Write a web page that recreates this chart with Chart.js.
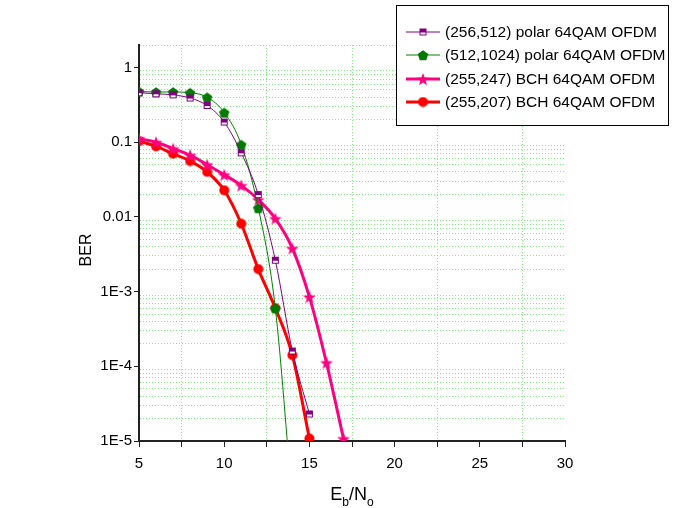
<!DOCTYPE html>
<html>
<head>
<meta charset="utf-8">
<script src="https://cdn.jsdelivr.net/npm/chart.js@4"></script>
<style>
  html, body { margin: 0; padding: 0; background: #fff; }
</style>
</head>
<body>
<canvas id="berChart" width="673" height="508"></canvas>
<script>
// ---- data ----
const ebnoPolar256 = [5, 6, 7, 8, 9, 10, 11, 12, 13, 14, 15];
const berPolar256 = [0.46, 0.445, 0.43, 0.39, 0.31, 0.186, 0.072, 0.0199, 0.00263, 1.6e-4, 2.3e-5];

const ebnoPolar512 = [5, 6, 7, 8, 9, 10, 11, 12, 13, 14];
const berPolar512 = [0.478, 0.47, 0.47, 0.46, 0.40, 0.25, 0.093, 0.0132, 6.0e-4, 1.5e-6];

const ebnoBch247 = [5, 6, 7, 8, 9, 10, 11, 12, 13, 14, 15, 16, 17];
const berBch247 = [0.112, 0.100, 0.082, 0.067, 0.050, 0.0367, 0.0264, 0.0170, 0.0095, 0.0038, 8.5e-4, 1.12e-4, 1.08e-5];

const ebnoBch207 = [5, 6, 7, 8, 9, 10, 11, 12, 13, 14, 15];
const berBch207 = [0.1035, 0.088, 0.070, 0.056, 0.040, 0.0227, 0.0081, 0.0020, 6.0e-4, 1.41e-4, 1.08e-5];

const seriesNames = [
  '(256,512) polar 64QAM OFDM',
  '(512,1024) polar 64QAM OFDM',
  '(255,247) BCH 64QAM OFDM',
  '(255,207) BCH 64QAM OFDM'
];

const yMajorVals = [1, 0.1, 0.01, 1e-3, 1e-4, 1e-5];
const yMajorLabels = ['1', '0.1', '0.01', '1E-3', '1E-4', '1E-5'];
const xLabelStep = 5;
const yTitle = 'BER';
const xTitleParts = [['E', false], ['b', true], ['/N', false], ['o', true]];

const FONT = '"Liberation Sans", Arial, sans-serif';
const GRID_GREEN = '#80f080';

// pair up x / y arrays
function pts(xs, ys) {
  return xs.map((x, i) => ({ x: x, y: ys[i] }));
}

// small canvases used as point styles
function makeMarker(kind, color, size) {
  const c = document.createElement('canvas');
  c.width = size; c.height = size;
  const g = c.getContext('2d');
  const m = size / 2;
  g.fillStyle = color;
  g.strokeStyle = color;
  g.lineWidth = 1;
  if (kind === 'halfsquare') {
    g.fillStyle = '#fff';
    g.fillRect(1, 1, size - 2, size - 2);
    g.fillStyle = color;
    g.fillRect(1, 1, size - 2, Math.round((size - 2) / 2));
    g.strokeRect(1.5, 1.5, size - 3, size - 3);
  } else if (kind === 'pentagon') {
    g.beginPath();
    for (let i = 0; i < 5; i++) {
      const a = -Math.PI / 2 + i * 2 * Math.PI / 5;
      g.lineTo(m + (m - 0.5) * Math.cos(a), m + 0.8 + (m - 0.5) * Math.sin(a));
    }
    g.closePath();
    g.fill();
  } else if (kind === 'star') {
    g.beginPath();
    for (let i = 0; i < 10; i++) {
      const a = -Math.PI / 2 + i * Math.PI / 5;
      const r = i % 2 === 0 ? m - 0.3 : (m - 0.3) * 0.42;
      g.lineTo(m + r * Math.cos(a), m + 0.8 + r * Math.sin(a));
    }
    g.closePath();
    g.fill();
  } else {
    g.beginPath();
    g.arc(m, m, m - 0.5, 0, Math.PI * 2);
    g.fill();
  }
  return c;
}

const mkPurple = makeMarker('halfsquare', '#800080', 9);
const mkGreen = makeMarker('pentagon', '#007a00', 12);
const mkPink = makeMarker('star', '#ff0080', 14);
const mkRed = makeMarker('circle', '#ff0000', 11);

// y ticks: 1..9 x 10^n, only decades get a label
const yTickVals = [];
for (let e = -5; e <= 0; e++) {
  for (let k = 1; k <= 9; k++) {
    const v = parseFloat((k * Math.pow(10, e)).toPrecision(6));
    if (v <= 2) yTickVals.push(v);
  }
}
function yMajorIndex(v) {
  return yMajorVals.findIndex(m => Math.abs(v / m - 1) < 1e-6);
}

// titles + legend drawn on top
const overlayPlugin = {
  id: 'overlay',
  afterDraw(chart) {
    const ctx = chart.ctx;
    const area = chart.chartArea;
    ctx.save();
    ctx.fillStyle = '#000';

    // y title
    ctx.save();
    ctx.font = '16px ' + FONT;
    ctx.translate(87, 250);
    ctx.rotate(-Math.PI / 2);
    ctx.textAlign = 'center';
    ctx.textBaseline = 'middle';
    ctx.fillText(yTitle, 0, 0);
    ctx.restore();

    // x title with subscripts
    const mainFont = '18px ' + FONT;
    const subFont = '12px ' + FONT;
    let total = 0;
    xTitleParts.forEach(p => {
      ctx.font = p[1] ? subFont : mainFont;
      total += ctx.measureText(p[0]).width;
    });
    let x = (area.left + area.right) / 2 - total / 2;
    ctx.textAlign = 'left';
    ctx.textBaseline = 'alphabetic';
    xTitleParts.forEach(p => {
      ctx.font = p[1] ? subFont : mainFont;
      ctx.fillText(p[0], x, p[1] ? 506 : 500);
      x += ctx.measureText(p[0]).width;
    });

    // legend box
    const bx = 396.5, by = 5.5, bw = 272, bh = 120;
    ctx.fillStyle = '#fff';
    ctx.fillRect(bx, by, bw, bh);
    ctx.strokeStyle = '#000';
    ctx.lineWidth = 1;
    ctx.strokeRect(bx, by, bw, bh);
    const rows = [32, 55, 79, 102];
    chart.data.datasets.forEach((ds, i) => {
      const y = rows[i];
      ctx.strokeStyle = ds.borderColor;
      ctx.lineWidth = ds.borderWidth;
      ctx.beginPath();
      ctx.moveTo(406, y);
      ctx.lineTo(440, y);
      ctx.stroke();
      const img = ds.pointStyle;
      ctx.drawImage(img, 423 - img.width / 2, y - img.height / 2);
      ctx.fillStyle = '#000';
      ctx.font = '15.5px ' + FONT;
      ctx.textBaseline = 'middle';
      ctx.fillText(seriesNames[i], 445, y + 1);
    });
    ctx.restore();
  }
};

new Chart(document.getElementById('berChart'), {
  type: 'line',
  data: {
    datasets: [
      {
        label: seriesNames[0],
        data: pts(ebnoPolar256, berPolar256),
        borderColor: '#800080',
        borderWidth: 1,
        pointStyle: mkPurple,
        pointRadius: 4,
        cubicInterpolationMode: 'monotone'
      },
      {
        label: seriesNames[1],
        data: pts(ebnoPolar512, berPolar512),
        borderColor: '#008000',
        borderWidth: 1,
        pointStyle: mkGreen,
        pointRadius: 5,
        cubicInterpolationMode: 'monotone'
      },
      {
        label: seriesNames[2],
        data: pts(ebnoBch247, berBch247),
        borderColor: '#ff0080',
        borderWidth: 3,
        pointStyle: mkPink,
        pointRadius: 6,
        cubicInterpolationMode: 'monotone'
      },
      {
        label: seriesNames[3],
        data: pts(ebnoBch207, berBch207),
        borderColor: '#ff0000',
        borderWidth: 3,
        pointStyle: mkRed,
        pointRadius: 5,
        cubicInterpolationMode: 'monotone'
      }
    ]
  },
  options: {
    responsive: false,
    animation: false,
    layout: { padding: { top: 45, right: 108, left: 0, bottom: 0 } },
    plugins: {
      legend: { display: false },
      tooltip: { enabled: false }
    },
    scales: {
      x: {
        type: 'linear',
        min: 5,
        max: 30,
        afterFit: s => { s.height = 67; },
        ticks: {
          stepSize: 2.5,
          autoSkip: false,
          maxRotation: 0,
          padding: 8,
          color: '#000',
          font: { family: FONT, size: 15 },
          callback: v => (v % xLabelStep === 0 ? String(v) : '')
        },
        grid: {
          color: c => (c.tick && c.tick.value % xLabelStep !== 0 ? GRID_GREEN : 'transparent'),
          lineWidth: 1,
          tickColor: '#222',
          tickLength: 6
        },
        border: { display: true, color: '#222', width: 2, dash: [1, 2] }
      },
      y: {
        type: 'logarithmic',
        min: 1e-5,
        max: 2,
        afterFit: s => { s.width = 139; },
        afterBuildTicks: s => {
          s.ticks = yTickVals.map(v => ({ value: v }));
        },
        ticks: {
          autoSkip: false,
          padding: 2,
          color: '#000',
          font: { family: FONT, size: 15 },
          callback: v => {
            const i = yMajorIndex(v);
            return i >= 0 ? yMajorLabels[i] : '';
          }
        },
        grid: {
          color: c => (c.tick && yMajorIndex(c.tick.value) < 0 ? GRID_GREEN : 'transparent'),
          lineWidth: 1,
          tickColor: c => (c.tick && yMajorIndex(c.tick.value) >= 0 ? '#222' : 'transparent'),
          tickLength: 5
        },
        border: { display: true, color: '#222', width: 2, dash: [1, 2] }
      }
    }
  },
  plugins: [overlayPlugin]
});
</script>
</body>
</html>
